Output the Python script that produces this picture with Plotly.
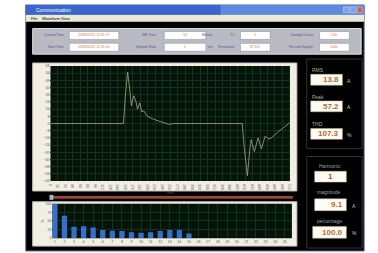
import plotly.graph_objects as go

# ---------------- data ----------------
time_samples = [0, 150, 156, 160, 165, 170, 173, 178, 183, 186, 191, 195, 200, 205, 215, 230,
                245, 254, 262, 300, 350, 410, 414, 421, 426, 429, 436, 444, 451, 459, 466,
                472, 485, 500, 508, 512]
current_a = [0, 0, 0, 30, 57.2, 35, 20, 31, 24, 16, 23, 13, 14, 9, 6, 3,
             1, -1, 0, 0, 0, 0, -25, -58, -30, -18, -31, -16, -28, -14, -17,
             -16, -10, -4, 0, 1]

harmonic_order = [1, 2, 3, 4, 5, 6, 7, 8, 9, 10, 11, 12, 13, 14, 15]
harmonic_pct = [100, 65, 33, 35, 31, 24, 22, 21, 17, 16, 17, 21, 24, 24, 14]

param_labels_row1 = ["Current Time", "WE Time", "Minute", "TC", "Sample Count"]
param_values_row1 = ["2009/03/11 11:31:27", "10", "", "1", "100"]
param_labels_row2 = ["Start Time", "Sample Rate", "ms", "Resolution", "Record Sample"]
param_values_row2 = ["2009/03/11 11:31:04", "1", "", "87.5%", "1000"]

rms_value, peak_value, thd_value = "13.8", "57.2", "107.3"
harmonic_no, magnitude_value, percentage_value = "1", "9.1", "100.0"

# ---------------- helpers ----------------
W, H = 378, 253
def px(x):
    return x / W
def py(y):
    return 1 - y / H

shapes = []
annotations = []

def rect(x0, y0, x1, y1, fill, line=None, lw=0):
    shapes.append(dict(type="rect", xref="paper", yref="paper",
                       x0=px(x0), x1=px(x1), y0=py(y1), y1=py(y0),
                       fillcolor=fill, layer="below",
                       line=dict(color=line or fill, width=lw)))

def text(x, y, s, size=5, color="#000", anchor="left", bold=False, family="Liberation Sans"):
    annotations.append(dict(xref="paper", yref="paper", x=px(x), y=py(y), text=("<b>%s</b>" % s) if bold else s,
                            showarrow=False, xanchor=anchor, yanchor="middle",
                            font=dict(size=size, color=color, family=family)))

# window
rect(23, 3, 365, 253, "#000000", "#5a6f9a", 1)
# title bar
rect(23, 3, 365, 13, "#3a66d0")
rect(220, 3, 365, 13, "#5d8ae0")
text(31, 8, "Communication", size=5, color="#ffffff")
rect(344, 5, 350, 11, "#7fa3e8", "#d0dcf5", 0.5)
rect(351, 5, 357, 11, "#7fa3e8", "#d0dcf5", 0.5)
rect(358, 5, 363, 11, "#d06040", "#f0d0c0", 0.5)
# menu bar
rect(23, 13, 365, 20, "#ece9d8")
text(26, 16.5, "File", size=4, color="#000")
text(37, 16.5, "Waveform", size=4, color="#000")
text(57, 16.5, "View", size=4, color="#000")

# parameter panel
rect(30, 27, 362, 53, "#b9bac2", "#e0e0e8", 1)
row_y = [34, 46]
label_x = [64, 157, 214, 237, 315]
field_x = [(67, 117), (163, 205), None, (240, 270), (320, 350)]
for r, (labels, values) in enumerate([(param_labels_row1, param_values_row1),
                                      (param_labels_row2, param_values_row2)]):
    yy = row_y[r]
    for i, lab in enumerate(labels):
        text(label_x[i], yy, lab, size=3.5, color="#6a4a9a", anchor="right")
        if field_x[i] is not None:
            fx0, fx1 = field_x[i]
            rect(fx0, yy - 4, fx1, yy + 4, "#ffffff", "#8a8a9a", 0.5)
            text((fx0 + fx1) / 2, yy, values[i], size=3.5, color="#d07a30", anchor="center")

# main chart frame and plot bg
rect(30, 62, 297, 192, "#f1efe3", "#c8c6b8", 1)
rect(48, 65, 290, 182, "#04140b")
# slider
rect(49, 197, 293, 200, "#a04434")
rect(47, 196, 51, 201, "#9ab8d8")
# bar chart frame and plot bg
rect(30, 203, 297, 248, "#f1efe3", "#c8c6b8", 1)
rect(50, 205, 292, 240, "#04140b")

# right panel 1
rect(307, 58, 363, 149, "#000000", "#333333", 1)
for lab, val, unit, ly, by in [("RMS", rms_value, "A", 69, 79),
                               ("Peak", peak_value, "A", 97, 106),
                               ("THD", thd_value, "%", 124, 134)]:
    text(310, ly, lab, size=5, color="#a9b59a")
    rect(311, by - 5.5, 343, by + 5.5, "#fdfbf2", "#c0b8a0", 0.5)
    text(342, by, val, size=8, color="#b86a30", anchor="right", bold=True)
    text(346, by + 1, unit, size=5, color="#c8c8b0")

# right panel 2
rect(307, 157, 363, 250, "#000000", "#333333", 1)
text(330, 167, "Harmonic", size=5, color="#8fa0b0", anchor="center")
rect(315, 172, 347, 183, "#fdfbf2", "#c0b8a0", 0.5)
text(331, 177.5, harmonic_no, size=8, color="#d83a2a", anchor="center", bold=True)
text(329, 193, "magnitude", size=5, color="#8fa0b0", anchor="center")
rect(315, 200, 347, 212, "#fdfbf2", "#c0b8a0", 0.5)
text(346, 206, magnitude_value, size=8, color="#b86a30", anchor="right", bold=True)
text(351, 207, "A", size=5, color="#c8c8b0")
text(330, 223, "percentage", size=5, color="#8fa0b0", anchor="center")
rect(313, 228, 347, 240, "#fdfbf2", "#c0b8a0", 0.5)
text(346, 234, percentage_value, size=8, color="#b86a30", anchor="right", bold=True)
text(351, 235, "%", size=5, color="#c8c8b0")

# ---------------- figure ----------------
fig = go.Figure()
fig.add_trace(go.Scatter(x=time_samples, y=current_a, mode="lines",
                         line=dict(color="#a9a38f", width=0.8), xaxis="x", yaxis="y",
                         hoverinfo="skip"))
fig.add_trace(go.Bar(x=harmonic_order, y=harmonic_pct, marker=dict(color="#3470cc", line=dict(width=0)),
                     width=0.55, xaxis="x2", yaxis="y2", hoverinfo="skip"))

grid = "#15331f"
tickfont = dict(size=3.6, color="#555555", family="Liberation Sans")
fig.update_layout(
    width=W, height=H, autosize=False,
    margin=dict(l=0, r=0, t=0, b=0),
    paper_bgcolor="#ffffff", plot_bgcolor="rgba(0,0,0,0)",
    showlegend=False,
    shapes=shapes, annotations=annotations,
    xaxis=dict(domain=[px(48), px(290)], range=[0, 512], dtick=16, tick0=0,
               showgrid=True, gridcolor=grid, gridwidth=1, zeroline=False,
               tickfont=tickfont, ticks="", ticklen=0, showline=False,
               title=dict(text="Time", font=dict(size=4, color="#555"), standoff=1),
               anchor="y", fixedrange=True),
    yaxis=dict(domain=[py(182), py(65)], range=[-64, 64], dtick=8, tick0=0,
               showgrid=True, gridcolor=grid, gridwidth=1, zeroline=False,
               tickfont=tickfont, ticks="", showline=False, anchor="x", fixedrange=True),
    xaxis2=dict(domain=[px(50), px(292)], range=[0.75, 25.75], dtick=1, tick0=1,
                showgrid=True, gridcolor=grid, gridwidth=1, zeroline=False,
                tickfont=tickfont, ticks="", showline=False, anchor="y2", fixedrange=True),
    yaxis2=dict(domain=[py(240), py(205)], range=[0, 100], dtick=25,
                showgrid=True, gridcolor=grid, gridwidth=1, zeroline=False,
                tickfont=tickfont, ticks="", showline=False, anchor="x2", fixedrange=True,
                title=dict(text="%", font=dict(size=4, color="#555"), standoff=1)),
)

fig.write_html("out.html", config={"displayModeBar": False, "staticPlot": True},
               post_script="document.body.style.margin='0';")
